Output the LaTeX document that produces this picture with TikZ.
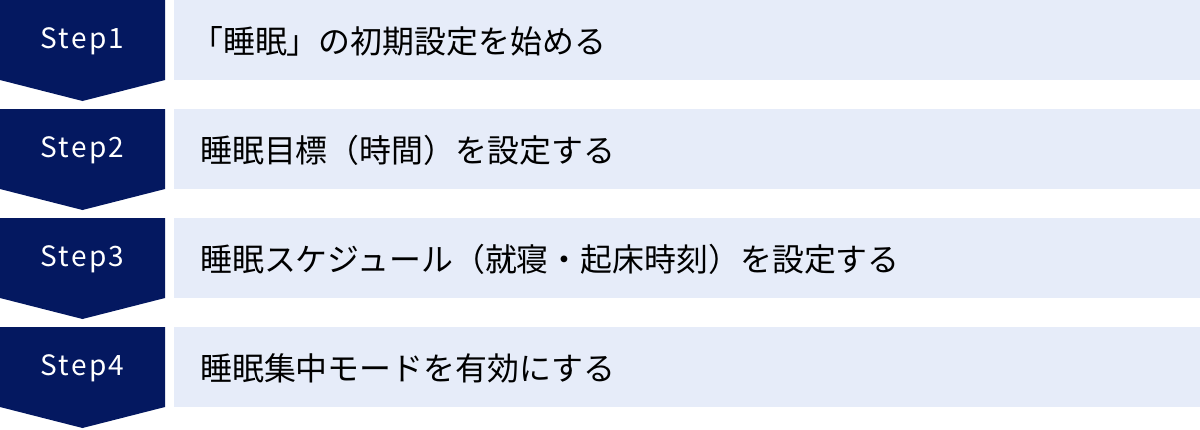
\documentclass[tikz,border=0pt]{standalone}
\usepackage{fontspec}
\setmainfont{Noto Sans CJK JP}
\newfontfamily\stepfont[LetterSpace=8]{Noto Sans CJK JP}
\definecolor{navy}{RGB}{4,24,96}
\definecolor{pale}{RGB}{230,236,249}
\tikzset{
  stepshape/.style={fill=navy, draw=none},
  rowbox/.style={fill=pale, draw=none},
  steplabel/.style={text=white, font=\stepfont\fontsize{28}{28}\selectfont, inner sep=0pt, anchor=base},
  rowtext/.style={text=black, font=\fontsize{31.9}{31.9}\selectfont, inner sep=0pt, anchor=base west}
}
\begin{document}
\begin{tikzpicture}[x=1pt,y=-1pt]
\useasboundingbox (0,0) rectangle (1200,429);
\foreach \i/\yy in {1/0,2/109,3/218,4/327}{
  \fill[stepshape] (0,\yy) -- (165,\yy) -- (165,\yy+80) -- (82.5,\yy+101) -- (0,\yy+80) -- cycle;
  \fill[rowbox] (174,\yy) rectangle (1200,\yy+80);
  \node[steplabel] (s\i) at (82.5,\yy+48) {Step\i};
}
\node[rowtext] (t1) at (191,53) {「睡眠」の初期設定を始める};
\node[rowtext] (t2) at (200,162) {睡眠目標（時間）を設定する};
\node[rowtext] (t3) at (200,271) {睡眠スケジュール（就寝・起床時刻）を設定する};
\node[rowtext] (t4) at (200,380) {睡眠集中モードを有効にする};
\end{tikzpicture}
\end{document}
